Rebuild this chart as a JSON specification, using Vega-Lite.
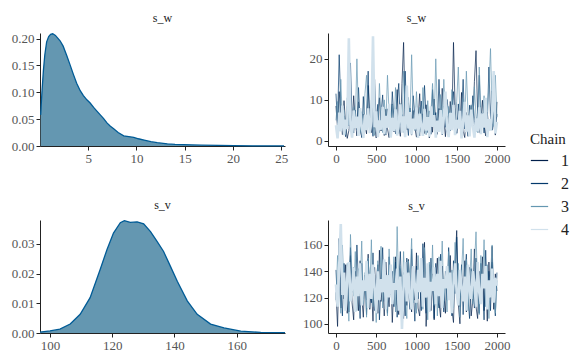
{
"$schema":"https://vega.github.io/schema/vega-lite/v6.json",
"background":"white",
"padding":{"left":11,"top":12,"right":5,"bottom":5},
"datasets":{
"densW":[{"x":0.07,"d":0.058},{"x":0.2,"d":0.1},{"x":0.35,"d":0.14},{"x":0.5,"d":0.17},{"x":0.69,"d":0.194},{"x":0.9,"d":0.204},{"x":1.1,"d":0.208},{"x":1.32,"d":0.209},{"x":1.6,"d":0.206},{"x":2.08,"d":0.196},{"x":2.4,"d":0.186},{"x":2.78,"d":0.168},{"x":3.1,"d":0.152},{"x":3.47,"d":0.133},{"x":3.8,"d":0.117},{"x":4.17,"d":0.103},{"x":4.5,"d":0.094},{"x":4.86,"d":0.086},{"x":5.2,"d":0.08},{"x":5.56,"d":0.072},{"x":5.9,"d":0.065},{"x":6.25,"d":0.058},{"x":6.6,"d":0.051},{"x":6.94,"d":0.043},{"x":7.3,"d":0.037},{"x":7.64,"d":0.032},{"x":8.1,"d":0.025},{"x":8.68,"d":0.019},{"x":9.2,"d":0.0175},{"x":9.72,"d":0.016},{"x":10.2,"d":0.0135},{"x":10.8,"d":0.011},{"x":11.5,"d":0.008},{"x":12.15,"d":0.0062},{"x":13.2,"d":0.004},{"x":14.0,"d":0.003},{"x":14.9,"d":0.0025},{"x":16.7,"d":0.0015},{"x":18.5,"d":0.001},{"x":20.1,"d":0.0007},{"x":22.0,"d":0.0004},{"x":25.3,"d":0.0002}],
"densV":[{"x":96.8,"d":0.0003},{"x":100,"d":0.0007},{"x":103.2,"d":0.0013},{"x":106.5,"d":0.003},{"x":109.7,"d":0.0063},{"x":112.9,"d":0.0119},{"x":116.1,"d":0.0213},{"x":118.3,"d":0.028},{"x":120.4,"d":0.0336},{"x":122.6,"d":0.0371},{"x":123.9,"d":0.0378},{"x":125.8,"d":0.0372},{"x":128,"d":0.0374},{"x":130.1,"d":0.0367},{"x":132.3,"d":0.0341},{"x":134.4,"d":0.0308},{"x":136.5,"d":0.0274},{"x":138.7,"d":0.0224},{"x":140.9,"d":0.0174},{"x":144.1,"d":0.0108},{"x":147.3,"d":0.0063},{"x":151.6,"d":0.003},{"x":155.9,"d":0.0017},{"x":161.3,"d":0.0006},{"x":167.7,"d":0.0002},{"x":175.5,"d":0.0001}],
"trW":[
{"i":0,"1":8.5,"2":11.5,"3":5.0,"4":3.8},{"i":20,"1":3.1,"2":4.3,"3":9.6,"4":0.6},{"i":40,"1":12.0,"2":21.0,"3":2.4,"4":6.9},{"i":60,"1":6.2,"2":9.0,"3":15.0,"4":2.3},{"i":80,"1":1.5,"2":2.9,"3":4.7,"4":8.6},
{"i":100,"1":9.8,"2":6.1,"3":7.4,"4":1.4},{"i":120,"1":4.0,"2":1.0,"3":1.6,"4":5.2},{"i":140,"1":0.6,"2":8.4,"3":10.5,"4":2.9},{"i":160,"1":2.5,"2":3.6,"3":3.8,"4":25.0},{"i":180,"1":7.1,"2":19.0,"3":6.1,"4":4.0},
{"i":200,"1":3.3,"2":5.2,"3":2.1,"4":0.8},{"i":220,"1":11.0,"2":1.9,"3":8.3,"4":7.4},{"i":240,"1":5.0,"2":7.5,"3":4.0,"4":3.1},{"i":260,"1":1.2,"2":2.7,"3":20.0,"4":5.9},{"i":280,"1":9.5,"2":13.0,"3":5.9,"4":1.2},
{"i":300,"1":2.8,"2":4.6,"3":1.9,"4":8.0},{"i":320,"1":0.9,"2":0.8,"3":7.1,"4":3.5},{"i":340,"1":6.5,"2":10.8,"3":3.0,"4":0.7},{"i":360,"1":3.9,"2":3.1,"3":11.5,"4":6.4},{"i":380,"1":1.7,"2":6.3,"3":16.0,"4":2.6},
{"i":400,"1":13.5,"2":17.0,"3":6.6,"4":7.9},{"i":420,"1":5.5,"2":2.3,"3":2.5,"4":1.9},{"i":440,"1":2.0,"2":5.7,"3":9.9,"4":4.8},{"i":460,"1":8.0,"2":1.1,"3":4.5,"4":25.5},{"i":480,"1":3.5,"2":15.0,"3":1.3,"4":3.3},
{"i":500,"1":0.7,"2":4.4,"3":7.0,"4":7.2},{"i":520,"1":6.8,"2":8.9,"3":3.6,"4":0.9},{"i":540,"1":10.5,"2":2.0,"3":14.0,"4":5.0},{"i":560,"1":2.4,"2":6.7,"3":5.3,"4":2.7},{"i":580,"1":4.6,"2":11.2,"3":2.0,"4":8.3},
{"i":600,"1":1.3,"2":3.2,"3":10.0,"4":1.6},{"i":620,"1":7.7,"2":1.4,"3":4.2,"4":6.1},{"i":640,"1":3.0,"2":7.8,"3":16.0,"4":3.2},{"i":660,"1":0.8,"2":4.9,"3":6.8,"4":9.0},{"i":680,"1":5.9,"2":2.2,"3":2.7,"4":0.8},
{"i":700,"1":9.0,"2":12.0,"3":8.9,"4":5.6},{"i":720,"1":2.2,"2":5.5,"3":3.1,"4":2.4},{"i":740,"1":4.4,"2":1.7,"3":13.0,"4":7.7},{"i":760,"1":12.5,"2":9.2,"3":5.7,"4":1.3},{"i":780,"1":3.6,"2":14.0,"3":1.8,"4":4.5},
{"i":800,"1":1.1,"2":3.8,"3":9.1,"4":8.9},{"i":820,"1":14.0,"2":6.4,"3":4.4,"4":2.0},{"i":840,"1":24.0,"2":2.1,"3":17.0,"4":6.0},{"i":860,"1":6.0,"2":17.0,"3":7.0,"4":0.9},{"i":880,"1":2.7,"2":5.1,"3":3.3,"4":13.5},
{"i":900,"1":9.3,"2":1.3,"3":10.6,"4":3.0},{"i":920,"1":4.1,"2":8.0,"3":5.1,"4":7.0},{"i":940,"1":1.4,"2":3.5,"3":21.0,"4":1.5},{"i":960,"1":7.4,"2":11.0,"3":6.3,"4":5.4},{"i":980,"1":3.2,"2":6.2,"3":2.5,"4":2.8},
{"i":1000,"1":0.9,"2":2.5,"3":12.0,"4":8.1},{"i":1020,"1":5.2,"2":4.8,"3":4.6,"4":0.7},{"i":1040,"1":11.5,"2":1.2,"3":8.2,"4":6.6},{"i":1060,"1":2.6,"2":9.7,"3":2.2,"4":3.6},{"i":1080,"1":6.6,"2":3.9,"3":13.0,"4":1.2},
{"i":1100,"1":1.8,"2":13.5,"3":5.4,"4":7.8},{"i":1120,"1":8.8,"2":5.6,"3":1.5,"4":2.5},{"i":1140,"1":3.4,"2":2.0,"3":9.8,"4":5.8},{"i":1160,"1":0.7,"2":7.3,"3":3.7,"4":1.0},{"i":1180,"1":5.8,"2":1.6,"3":6.9,"4":8.4},
{"i":1200,"1":2.1,"2":12.5,"3":14.0,"4":3.4},{"i":1220,"1":10.2,"2":4.1,"3":4.0,"4":6.3},{"i":1240,"1":4.7,"2":6.9,"3":20.0,"4":0.8},{"i":1260,"1":1.6,"2":2.8,"3":7.3,"4":4.9},{"i":1280,"1":7.9,"2":15.0,"3":2.6,"4":2.2},
{"i":1300,"1":3.0,"2":5.0,"3":11.3,"4":7.5},{"i":1320,"1":12.8,"2":1.5,"3":5.0,"4":1.7},{"i":1340,"1":5.3,"2":8.5,"3":15.0,"4":5.7},{"i":1360,"1":1.0,"2":3.3,"3":6.2,"4":12.0},{"i":1380,"1":6.1,"2":10.1,"3":2.1,"4":3.1},
{"i":1400,"1":2.9,"2":6.5,"3":8.4,"4":0.9},{"i":1420,"1":9.6,"2":2.4,"3":3.9,"4":6.8},{"i":1440,"1":4.2,"2":7.6,"3":12.5,"4":2.6},{"i":1460,"1":24.0,"2":12.0,"3":5.5,"4":8.8},{"i":1480,"1":8.2,"2":4.5,"3":2.4,"4":1.4},
{"i":1500,"1":1.9,"2":1.8,"3":9.6,"4":5.1},{"i":1520,"1":5.6,"2":9.0,"3":18.0,"4":3.0},{"i":1540,"1":3.1,"2":3.6,"3":6.0,"4":7.3},{"i":1560,"1":11.8,"2":6.0,"3":3.0,"4":0.6},{"i":1580,"1":2.4,"2":15.0,"3":10.3,"4":4.7},
{"i":1600,"1":0.8,"2":2.9,"3":4.8,"4":9.5},{"i":1620,"1":6.9,"2":5.4,"3":17.0,"4":2.1},{"i":1640,"1":4.0,"2":1.1,"3":7.1,"4":6.2},{"i":1660,"1":1.5,"2":8.7,"3":2.8,"4":1.1},{"i":1680,"1":8.6,"2":3.8,"3":8.8,"4":7.6},
{"i":1700,"1":3.3,"2":11.0,"3":4.1,"4":3.7},{"i":1720,"1":14.5,"2":4.9,"3":13.2,"4":0.8},{"i":1740,"1":22.0,"2":2.3,"3":5.9,"4":5.5},{"i":1760,"1":6.4,"2":7.2,"3":2.0,"4":2.3},{"i":1780,"1":2.0,"2":16.0,"3":18.0,"4":8.2},
{"i":1800,"1":5.0,"2":3.4,"3":7.5,"4":1.6},{"i":1820,"1":9.9,"2":6.8,"3":3.4,"4":6.7},{"i":1840,"1":3.7,"2":1.9,"3":11.0,"4":3.2},{"i":1860,"1":1.2,"2":9.4,"3":4.4,"4":10.5},{"i":1880,"1":7.0,"2":4.3,"3":8.0,"4":0.9},
{"i":1900,"1":2.6,"2":18.0,"3":13.0,"4":5.3},{"i":1920,"1":4.8,"2":5.8,"3":22.5,"4":2.5},{"i":1940,"1":12.2,"2":2.6,"3":6.7,"4":7.1},{"i":1960,"1":3.9,"2":8.1,"3":3.5,"4":17.0},{"i":1980,"1":1.4,"2":3.0,"3":16.0,"4":1.8},
{"i":2000,"1":9.5,"2":6.5,"3":5.8,"4":4.6}],
"trV":[
{"i":0,"1":124,"2":141,"3":118,"4":130},{"i":20,"1":98,"2":115,"3":152,"4":113},{"i":40,"1":150,"2":165,"3":132,"4":144},{"i":60,"1":112,"2":128,"3":108,"4":176},{"i":80,"1":138,"2":106,"3":160,"4":122},
{"i":100,"1":119,"2":146,"3":127,"4":139},{"i":120,"1":145,"2":121,"3":114,"4":110},{"i":140,"1":108,"2":135,"3":146,"4":135},{"i":160,"1":131,"2":109,"3":102,"4":147},{"i":180,"1":152,"2":158,"3":168,"4":117},
{"i":200,"1":116,"2":124,"3":136,"4":128},{"i":220,"1":103,"2":143,"3":121,"4":143},{"i":240,"1":140,"2":112,"3":155,"4":109},{"i":260,"1":126,"2":160,"3":110,"4":136},{"i":280,"1":110,"2":130,"3":142,"4":121},
{"i":300,"1":148,"2":104,"3":129,"4":146},{"i":320,"1":121,"2":146,"3":163,"4":114},{"i":340,"1":105,"2":119,"3":115,"4":133},{"i":360,"1":137,"2":137,"3":139,"4":125},{"i":380,"1":118,"2":107,"3":105,"4":148},
{"i":400,"1":153,"2":149,"3":150,"4":112},{"i":420,"1":111,"2":126,"3":124,"4":138},{"i":440,"1":129,"2":116,"3":164,"4":119},{"i":460,"1":102,"2":154,"3":113,"4":145},{"i":480,"1":143,"2":110,"3":137,"4":127},
{"i":500,"1":122,"2":133,"3":101,"4":108},{"i":520,"1":108,"2":145,"3":148,"4":140},{"i":540,"1":156,"2":103,"3":126,"4":118},{"i":560,"1":117,"2":129,"3":159,"4":134},{"i":580,"1":134,"2":158,"3":112,"4":124},
{"i":600,"1":106,"2":117,"3":140,"4":149},{"i":620,"1":147,"2":134,"3":121,"4":111},{"i":640,"1":125,"2":108,"3":106,"4":137},{"i":660,"1":113,"2":151,"3":157,"4":120},{"i":680,"1":139,"2":122,"3":130,"4":145},
{"i":700,"1":101,"2":140,"3":117,"4":115},{"i":720,"1":130,"2":113,"3":151,"4":131},{"i":740,"1":151,"2":147,"3":109,"4":126},{"i":760,"1":115,"2":105,"3":174,"4":142},{"i":780,"1":107,"2":131,"3":127,"4":110},
{"i":800,"1":142,"2":155,"3":144,"4":136},{"i":820,"1":120,"2":118,"3":113,"4":96},{"i":840,"1":104,"2":139,"3":155,"4":128},{"i":860,"1":136,"2":106,"3":123,"4":147},{"i":880,"1":114,"2":150,"3":104,"4":117},
{"i":900,"1":149,"2":125,"3":148,"4":139},{"i":920,"1":123,"2":111,"3":133,"4":122},{"i":940,"1":109,"2":157,"3":165,"4":111},{"i":960,"1":141,"2":128,"3":116,"4":144},{"i":980,"1":118,"2":102,"3":139,"4":129},
{"i":1000,"1":154,"2":144,"3":108,"4":116},{"i":1020,"1":112,"2":119,"3":152,"4":141},{"i":1040,"1":106,"2":136,"3":125,"4":124},{"i":1060,"1":133,"2":110,"3":143,"4":150},{"i":1080,"1":121,"2":161,"3":111,"4":113},
{"i":1100,"1":162,"2":126,"3":158,"4":135},{"i":1120,"1":98,"2":108,"3":131,"4":120},{"i":1140,"1":127,"2":142,"3":103,"4":146},{"i":1160,"1":145,"2":117,"3":147,"4":109},{"i":1180,"1":110,"2":150,"3":122,"4":132},
{"i":1200,"1":138,"2":131,"3":160,"4":125},{"i":1220,"1":103,"2":104,"3":114,"4":143},{"i":1240,"1":131,"2":146,"3":137,"4":115},{"i":1260,"1":150,"2":121,"3":106,"4":138},{"i":1280,"1":116,"2":112,"3":151,"4":121},
{"i":1300,"1":105,"2":153,"3":128,"4":148},{"i":1320,"1":144,"2":127,"3":163,"4":112},{"i":1340,"1":124,"2":109,"3":117,"4":134},{"i":1360,"1":108,"2":140,"3":134,"4":127},{"i":1380,"1":139,"2":118,"3":109,"4":144},
{"i":1400,"1":119,"2":158,"3":155,"4":118},{"i":1420,"1":152,"2":130,"3":126,"4":139},{"i":1440,"1":111,"2":106,"3":141,"4":108},{"i":1460,"1":101,"2":148,"3":112,"4":130},{"i":1480,"1":146,"2":123,"3":162,"4":146},
{"i":1500,"1":171,"2":166,"3":120,"4":123},{"i":1520,"1":115,"2":129,"3":146,"4":114},{"i":1540,"1":100,"2":113,"3":105,"4":141},{"i":1560,"1":135,"2":145,"3":138,"4":128},{"i":1580,"1":122,"2":107,"3":165,"4":117},
{"i":1600,"1":148,"2":137,"3":119,"4":136},{"i":1620,"1":109,"2":153,"3":149,"4":110},{"i":1640,"1":128,"2":119,"3":110,"4":145},{"i":1660,"1":143,"2":104,"3":131,"4":125},{"i":1680,"1":106,"2":142,"3":157,"4":119},
{"i":1700,"1":118,"2":128,"3":115,"4":140},{"i":1720,"1":157,"2":112,"3":144,"4":131},{"i":1740,"1":113,"2":150,"3":170,"4":113},{"i":1760,"1":104,"2":124,"3":125,"4":147},{"i":1780,"1":140,"2":108,"3":107,"4":124},
{"i":1800,"1":126,"2":146,"3":152,"4":115},{"i":1820,"1":151,"2":133,"3":129,"4":138},{"i":1840,"1":110,"2":103,"3":164,"4":127},{"i":1860,"1":134,"2":156,"3":113,"4":144},{"i":1880,"1":102,"2":121,"3":145,"4":111},
{"i":1900,"1":147,"2":140,"3":104,"4":133},{"i":1920,"1":120,"2":110,"3":136,"4":120},{"i":1940,"1":159,"2":147,"3":160,"4":142},{"i":1960,"1":111,"2":128,"3":121,"4":116},{"i":1980,"1":138,"2":106,"3":108,"4":135},
{"i":2000,"1":125,"2":139,"3":133,"4":129}]
},
"columns":2,
"spacing":{"row":74,"column":43},
"bounds":"flush",
"align":"each",
"concat":[
{"width":245,"height":113,"title":"s_w","data":{"name":"densW"},
 "mark":{"type":"area","color":"#6497b1","opacity":1,"line":{"color":"#005b96","strokeWidth":1.3}},
 "encoding":{
  "x":{"field":"x","type":"quantitative","scale":{"domain":[0,25.4],"nice":false,"zero":false},"axis":{"values":[5,10,15,20,25],"title":null}},
  "y":{"field":"d","type":"quantitative","scale":{"domain":[0,0.2105],"nice":false},"axis":{"values":[0,0.05,0.1,0.15,0.2],"format":".2f","title":null}}}},
{"width":177,"height":113,"title":"s_w","data":{"name":"trW"},
 "transform":[{"fold":["1","2","3","4"],"as":["Chain","v"]}],
 "encoding":{
  "x":{"field":"i","type":"quantitative","scale":{"domain":[-99,2100],"nice":false,"zero":false},"axis":{"values":[0,500,1000,1500,2000],"format":"d","title":null}},
  "y":{"field":"v","type":"quantitative","scale":{"domain":[-1.26,26.3],"nice":false,"zero":false},"axis":{"values":[0,10,20],"title":null}},
  "color":{"field":"Chain","type":"nominal","scale":{"domain":["1","2","3","4"],"range":["#011f4b","#03396c","#6497b1","#d1e1ec"]},
   "legend":{"title":"Chain","orient":"none","legendX":490,"legendY":99,"symbolType":"stroke","symbolSize":300,"symbolStrokeWidth":1.2,"labelFontSize":16,"titleFontSize":15,"titleFontWeight":"normal","rowPadding":5,"titlePadding":4,"labelOffset":12,"labelColor":"#222","titleColor":"#222"}}},
 "layer":[
  {"transform":[{"filter":"datum.Chain == '1'"}],"mark":{"type":"line","strokeWidth":0.7}},
  {"transform":[{"filter":"datum.Chain == '2'"}],"mark":{"type":"line","strokeWidth":0.7}},
  {"transform":[{"filter":"datum.Chain == '3'"}],"mark":{"type":"line","strokeWidth":0.7}},
  {"transform":[{"filter":"datum.Chain == '4'"}],"mark":{"type":"line","strokeWidth":2.6}}
 ]},
{"width":245,"height":113,"title":"s_v","data":{"name":"densV"},
 "mark":{"type":"area","color":"#6497b1","opacity":1,"line":{"color":"#005b96","strokeWidth":1.3}},
 "encoding":{
  "x":{"field":"x","type":"quantitative","scale":{"domain":[96.8,175.5],"nice":false,"zero":false},"axis":{"values":[100,120,140,160],"title":null}},
  "y":{"field":"d","type":"quantitative","scale":{"domain":[0,0.038],"nice":false},"axis":{"values":[0,0.01,0.02,0.03],"format":".2f","title":null}}}},
{"width":177,"height":113,"title":"s_v","data":{"name":"trV"},
 "transform":[{"fold":["1","2","3","4"],"as":["Chain","v"]}],
 "encoding":{
  "x":{"field":"i","type":"quantitative","scale":{"domain":[-99,2100],"nice":false,"zero":false},"axis":{"values":[0,500,1000,1500,2000],"format":"d","title":null}},
  "y":{"field":"v","type":"quantitative","scale":{"domain":[93,179],"nice":false,"zero":false},"axis":{"values":[100,120,140,160],"title":null}},
  "color":{"field":"Chain","type":"nominal","scale":{"domain":["1","2","3","4"],"range":["#011f4b","#03396c","#6497b1","#d1e1ec"]},
   "legend":{"title":"Chain","orient":"none","legendX":490,"legendY":99,"symbolType":"stroke","symbolSize":300,"symbolStrokeWidth":1.2,"labelFontSize":16,"titleFontSize":15,"titleFontWeight":"normal","rowPadding":5,"titlePadding":4,"labelOffset":12,"labelColor":"#222","titleColor":"#222"}}},
 "layer":[
  {"transform":[{"filter":"datum.Chain == '1'"}],"mark":{"type":"line","strokeWidth":0.7}},
  {"transform":[{"filter":"datum.Chain == '2'"}],"mark":{"type":"line","strokeWidth":0.7}},
  {"transform":[{"filter":"datum.Chain == '3'"}],"mark":{"type":"line","strokeWidth":0.7}},
  {"transform":[{"filter":"datum.Chain == '4'"}],"mark":{"type":"line","strokeWidth":2.6}}
 ]}
],
"config":{
 "font":"Liberation Serif",
 "view":{"stroke":null},
 "axis":{"grid":false,"domainColor":"#222","domainWidth":1,"tickColor":"#222","tickSize":4,"labelFont":"Liberation Serif","labelFontSize":13,"labelColor":"#555","labelPadding":2},
 "title":{"font":"Liberation Serif","fontSize":12,"fontWeight":"normal","color":"#222","frame":"group","offset":6},
 "legend":{"labelFont":"Liberation Serif","titleFont":"Liberation Serif"}
}
}
